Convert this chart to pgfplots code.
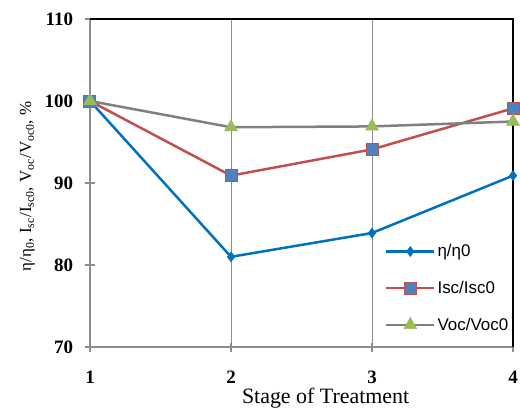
\documentclass[border=0pt]{standalone}
\usepackage{fontspec}
\setmainfont{Liberation Serif}
\newfontfamily\legfont{Liberation Sans}
\usepackage{pgfplots}
\pgfplotsset{compat=1.18}
\definecolor{lblue}{HTML}{0070C0}
\definecolor{mblue}{HTML}{4F81BD}
\definecolor{lred}{HTML}{C0504D}
\definecolor{lgray}{HTML}{808080}
\definecolor{mgreen}{HTML}{9BBB59}
\definecolor{axgray}{HTML}{8C8C8C}

\begin{document}
\begin{tikzpicture}[x=1bp,y=1bp]
\useasboundingbox (-90,-62) rectangle (430,347);
\begin{axis}[
  at={(0,0)}, anchor=south west,
  scale only axis,
  width=423bp, height=328bp,
  xmin=1, xmax=4, ymin=70, ymax=110,
  xtick={1,2,3,4}, ytick={70,80,90,100,110},
  axis x line*=bottom, axis y line*=left,
  axis line style={axgray, line width=1.2bp},
  every tick/.style={axgray, line width=1.2bp},
  tick align=center, major tick length=9bp,
  xmajorgrids, grid style={axgray, line width=0.9bp},
  /pgf/number format/assume math mode=true,
  tick label style={font=\fontsize{19}{19}\selectfont\bfseries},
  xticklabel style={yshift=-16bp},
  yticklabel style={xshift=-9bp},
  xlabel={Stage of Treatment},
  xlabel style={font=\fontsize{22}{22}\selectfont, at={(axis description cs:0.557,-0.1725)}, anchor=base, inner sep=0pt},
  ylabel={η/η\textsubscript{0}, I\textsubscript{sc}/I\textsubscript{sc0}, V\textsubscript{oc}/V\textsubscript{oc0}, \%},
  ylabel style={font=\fontsize{17}{17}\selectfont, at={(axis description cs:-0.148,0.49)}, anchor=center},
  legend style={draw=none, fill=none, at={(axis description cs:0.69,0.325)}, anchor=north west,
    font=\legfont\fontsize{17}{17}\selectfont, row sep=19bp},
  legend cell align=left,
  legend image code/.code={
    \draw[mark repeat=2,mark phase=2,#1] plot coordinates {(0bp,0bp) (24bp,0bp) (48bp,0bp)};},
  clip=false,
]
\addplot[lblue, line width=2.5bp, mark=diamond*, mark size=5bp, mark options={fill=lblue, draw=lblue, line width=0.5bp}]
  coordinates {(1,100) (2,81.0) (3,83.9) (4,90.9)};
\addlegendentry{η/η0}
\addplot[lred, line width=2.5bp, mark=square*, mark size=6bp, mark options={fill=mblue, draw=lred, line width=1bp}]
  coordinates {(1,100) (2,90.9) (3,94.1) (4,99.1)};
\addlegendentry{Isc/Isc0}
\addplot[lgray, line width=2.5bp, mark=triangle*, mark size=7.5bp, mark options={fill=mgreen, draw=mgreen, line width=0.5bp}]
  coordinates {(1,100) (2,96.8) (3,96.9) (4,97.5)};
\addlegendentry{Voc/Voc0}
\draw[black, line width=1.2bp] (rel axis cs:0,1) -- (rel axis cs:1,1) -- (rel axis cs:1,0);
\end{axis}
\end{tikzpicture}
\end{document}
